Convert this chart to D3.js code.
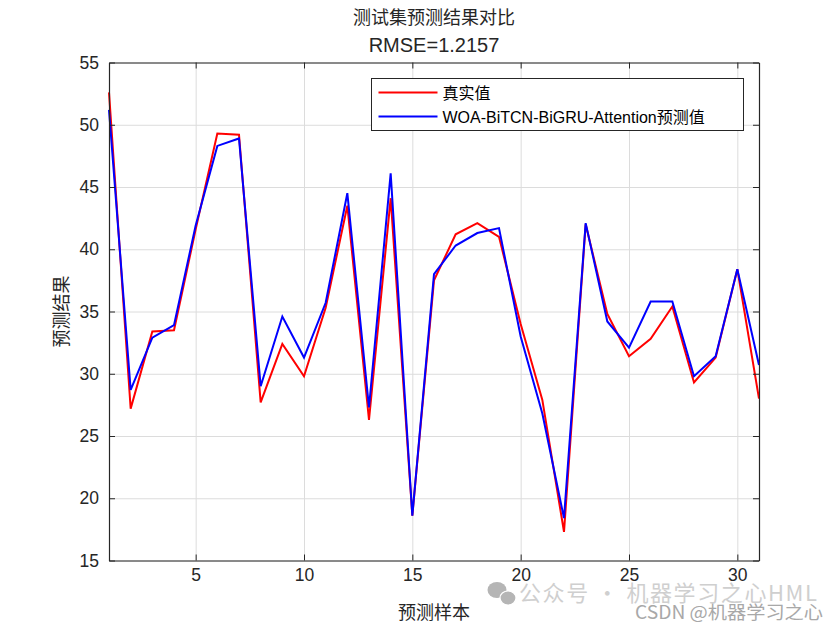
<!DOCTYPE html>
<html>
<head>
<meta charset="UTF-8">
<title>测试集预测结果对比</title>
<script src="https://cdn.jsdelivr.net/npm/d3@7"></script>
<style>
  body { margin: 0; background: #fff; }
  svg text { font-family: "Liberation Sans", Arial, sans-serif; }
  .cjk { font-family: "Noto Sans CJK SC", "Noto Sans", sans-serif; }
</style>
</head>
<body>
<svg id="chart" width="840" height="630"></svg>
<script>
// sample index 1..31
const samples = d3.range(1, 32);
const trueValues = [52.6, 27.2, 33.4, 33.5, 41.6, 49.3, 49.2, 27.7, 32.4, 29.8,
  35.3, 43.5, 26.3, 44.1, 18.6, 37.5, 41.2, 42.1, 41.0, 34.0,
  27.9, 17.3, 42.0, 34.8, 31.4, 32.8, 35.4, 29.3, 31.3, 38.4, 28.0];
const predValues = [51.2, 28.7, 32.9, 33.9, 41.9, 48.3, 48.9, 29.0, 34.6, 31.3,
  35.7, 44.5, 27.3, 46.1, 18.6, 38.0, 40.3, 41.3, 41.7, 33.0,
  26.8, 18.4, 42.1, 34.2, 32.1, 35.8, 35.8, 29.8, 31.4, 38.4, 30.7];
const xTicks = [5, 10, 15, 20, 25, 30];
const yTicks = [15, 20, 25, 30, 35, 40, 45, 50, 55];
const seriesNames = ["真实值", "WOA-BiTCN-BiGRU-Attention预测值"];
const seriesColors = ["#ff0000", "#0000ff"];

const plot = { left: 109, right: 759, top: 62.5, bottom: 560.5 };
const axisColor = "#262626";

const svg = d3.select("#chart");

const x = d3.scaleLinear().domain([1, 31]).range([plot.left, plot.right]);
const y = d3.scaleLinear().domain([15, 55]).range([plot.bottom, plot.top]);

// grid
svg.append("g")
  .attr("transform", `translate(0,${plot.bottom})`)
  .call(d3.axisBottom(x).tickValues(xTicks).tickSize(-(plot.bottom - plot.top)).tickFormat(""))
  .call(g => g.select(".domain").remove())
  .call(g => g.selectAll("line").attr("stroke", "#dcdcdc").attr("stroke-width", 1));
svg.append("g")
  .attr("transform", `translate(${plot.left},0)`)
  .call(d3.axisLeft(y).tickValues(yTicks).tickSize(-(plot.right - plot.left)).tickFormat(""))
  .call(g => g.select(".domain").remove())
  .call(g => g.selectAll("line").attr("stroke", "#dcdcdc").attr("stroke-width", 1));

// lines
const line = d3.line().x((d, i) => x(samples[i])).y(d => y(d));
[trueValues, predValues].forEach((vals, k) => {
  svg.append("path")
    .datum(vals)
    .attr("fill", "none")
    .attr("stroke", seriesColors[k])
    .attr("stroke-width", 2)
    .attr("stroke-linejoin", "miter")
    .attr("d", line);
});

// axes (ticks pointing inward, box on)
function styleAxis(g) {
  g.select(".domain").attr("stroke", axisColor).attr("stroke-width", 1.2);
  g.selectAll(".tick line").attr("stroke", axisColor);
  g.selectAll(".tick text").attr("fill", axisColor).style("font-size", "17.5px");
}
svg.append("g")
  .attr("transform", `translate(0,${plot.bottom})`)
  .call(d3.axisBottom(x).tickValues(xTicks).tickSizeInner(-6).tickSizeOuter(0).tickPadding(8))
  .call(styleAxis);
svg.append("g")
  .attr("transform", `translate(0,${plot.top})`)
  .call(d3.axisTop(x).tickValues(xTicks).tickSizeInner(-6).tickSizeOuter(0).tickFormat(""))
  .call(styleAxis);
svg.append("g")
  .attr("transform", `translate(${plot.left},0)`)
  .call(d3.axisLeft(y).tickValues(yTicks).tickSizeInner(-6).tickSizeOuter(0).tickPadding(10))
  .call(styleAxis);
svg.append("g")
  .attr("transform", `translate(${plot.right},0)`)
  .call(d3.axisRight(y).tickValues(yTicks).tickSizeInner(-6).tickSizeOuter(0).tickFormat(""))
  .call(styleAxis);

// titles
const cx = (plot.left + plot.right) / 2;
svg.append("text").attr("class", "cjk")
  .attr("x", cx).attr("y", 24).attr("text-anchor", "middle")
  .attr("fill", axisColor).style("font-size", "18px")
  .text("测试集预测结果对比");
svg.append("text")
  .attr("x", cx).attr("y", 52).attr("text-anchor", "middle")
  .attr("fill", axisColor).style("font-size", "20px")
  .text("RMSE=1.2157");
svg.append("text").attr("class", "cjk")
  .attr("x", cx).attr("y", 619).attr("text-anchor", "middle")
  .attr("fill", axisColor).style("font-size", "18px")
  .text("预测样本");
svg.append("text").attr("class", "cjk")
  .attr("transform", `translate(68,${(plot.top + plot.bottom) / 2}) rotate(-90)`)
  .attr("text-anchor", "middle")
  .attr("fill", axisColor).style("font-size", "18px")
  .text("预测结果");

// legend
const legend = svg.append("g").attr("transform", "translate(371.5,78.5)");
legend.append("rect")
  .attr("width", 372).attr("height", 52)
  .attr("fill", "#fff").attr("stroke", axisColor).attr("stroke-width", 1);
seriesNames.forEach((name, k) => {
  const ly = 14 + k * 24;
  legend.append("line")
    .attr("x1", 7).attr("x2", 66).attr("y1", ly).attr("y2", ly)
    .attr("stroke", seriesColors[k]).attr("stroke-width", 2);
  legend.append("text")
    .attr("x", 71).attr("y", ly + 6)
    .attr("fill", "#000").style("font-size", "16px")
    .style("font-family", "'Liberation Sans', 'Noto Sans CJK SC', sans-serif")
    .text(name);
});

// watermark
const wm = svg.append("g");
wm.append("ellipse").attr("cx", 497).attr("cy", 590).attr("rx", 9.5).attr("ry", 8).attr("fill", "#b5b5b5");
wm.append("ellipse").attr("cx", 508).attr("cy", 598).attr("rx", 8).attr("ry", 7).attr("fill", "#b5b5b5")
  .attr("stroke", "#fff").attr("stroke-width", 1.2);
wm.append("text").attr("class", "cjk")
  .attr("x", 519).attr("y", 601)
  .attr("fill", "#cfcfcf").style("font-size", "22px")
  .attr("textLength", 298).attr("lengthAdjust", "spacing")
  .text("公众号 · 机器学习之心HML");
wm.append("text").attr("class", "cjk")
  .attr("x", 635).attr("y", 619)
  .attr("fill", "#a8a8a8").style("font-size", "18px")
  .attr("textLength", 188).attr("lengthAdjust", "spacingAndGlyphs")
  .text("CSDN @机器学习之心");
</script>
</body>
</html>
